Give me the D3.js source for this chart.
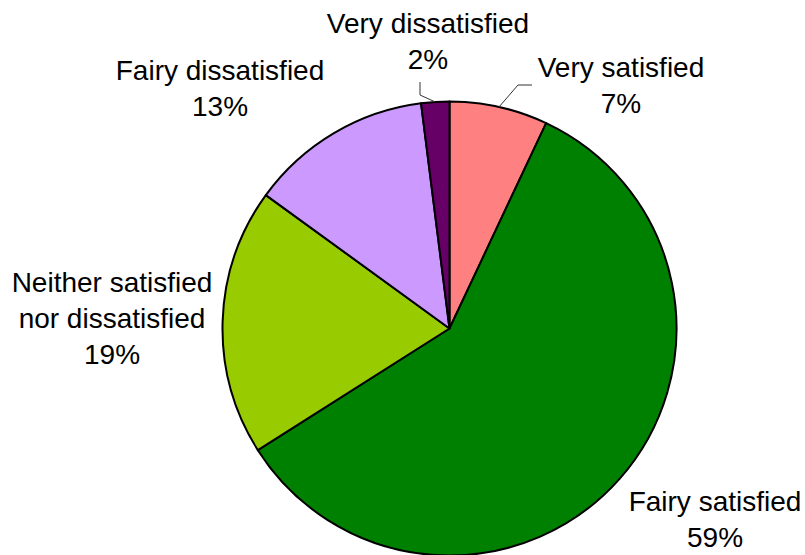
<!DOCTYPE html>
<html>
<head>
<meta charset="utf-8">
<script src="https://cdn.jsdelivr.net/npm/d3@7"></script>
<style>
  html, body { margin: 0; padding: 0; background: #fff; }
  svg { display: block; }
</style>
</head>
<body>
<div id="chart"></div>
<script>
const categories = ["Very satisfied", "Fairy satisfied", "Neither satisfied nor dissatisfied", "Fairy dissatisfied", "Very dissatisfied"];
const values = [7, 59, 19, 13, 2];
const colors = ["#ff8080", "#008000", "#99cc00", "#cc99ff", "#660066"];
// label lines (text split as in the original)
const labelLines = [["Very satisfied"], ["Fairy satisfied"], ["Neither satisfied", "nor dissatisfied"], ["Fairy dissatisfied"], ["Very dissatisfied"]];

const width = 805, height = 555;
const cx = 449.5, cy = 328.5, radius = 227;

// where each label block sits (center x, first baseline y)
const labelPos = [[621, 77], [715, 511], [112, 292], [220, 80], [428, 33]];
const lineGap = 36;

const svg = d3.select("#chart").append("svg")
  .attr("width", width)
  .attr("height", height);

const g = svg.append("g").attr("transform", `translate(${cx},${cy})`);

const pie = d3.pie().sort(null).value(d => d);
const arcs = pie(values);
const arc = d3.arc().innerRadius(0).outerRadius(radius);

g.selectAll("path")
  .data(arcs)
  .join("path")
  .attr("d", arc)
  .attr("fill", (d, i) => colors[i])
  .attr("stroke", "#000")
  .attr("stroke-width", 2)
  .attr("stroke-linejoin", "round");

// leader lines for the two small slices
const edge = d => {
  const a = (d.startAngle + d.endAngle) / 2;
  return [cx + radius * Math.sin(a), cy - radius * Math.cos(a)];
};

const leaders = [
  { i: 0, pts: p => [p, [518, 85], [532, 85]] },
  { i: 4, pts: p => [p, [420, 95], [420, 82]] }
];
svg.selectAll("path.leader")
  .data(leaders)
  .join("path")
  .attr("class", "leader")
  .attr("d", d => d3.line()(d.pts(edge(arcs[d.i]))))
  .attr("fill", "none")
  .attr("stroke", "#333")
  .attr("stroke-width", 1);

const labels = svg.append("g")
  .attr("font-family", "'Liberation Sans', Arial, sans-serif")
  .attr("font-size", 28)
  .attr("fill", "#000")
  .attr("text-anchor", "middle");

labels.selectAll("text")
  .data(categories)
  .join("text")
  .attr("transform", (d, i) => `translate(${labelPos[i][0]},${labelPos[i][1]})`)
  .selectAll("tspan")
  .data((d, i) => labelLines[i].concat([values[i] + "%"]))
  .join("tspan")
  .attr("x", 0)
  .attr("y", (d, j) => j * lineGap)
  .text(d => d);
</script>
</body>
</html>
